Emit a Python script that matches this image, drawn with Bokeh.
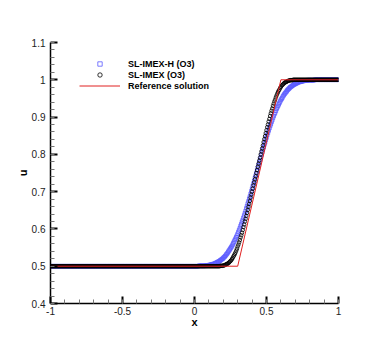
from bokeh.plotting import figure
from bokeh.models import (Range1d, SingleIntervalTicker, NumeralTickFormatter,
                          Legend, LegendItem)
from bokeh.embed import file_html
from bokeh.resources import INLINE

# ---------------- data ----------------
X = [
    -1.000, -0.995, -0.990, -0.985, -0.980, -0.975, -0.970, -0.965, -0.960, -0.955,
    -0.950, -0.945, -0.940, -0.935, -0.930, -0.925, -0.920, -0.915, -0.910, -0.905,
    -0.900, -0.895, -0.890, -0.885, -0.880, -0.875, -0.870, -0.865, -0.860, -0.855,
    -0.850, -0.845, -0.840, -0.835, -0.830, -0.825, -0.820, -0.815, -0.810, -0.805,
    -0.800, -0.795, -0.790, -0.785, -0.780, -0.775, -0.770, -0.765, -0.760, -0.755,
    -0.750, -0.745, -0.740, -0.735, -0.730, -0.725, -0.720, -0.715, -0.710, -0.705,
    -0.700, -0.695, -0.690, -0.685, -0.680, -0.675, -0.670, -0.665, -0.660, -0.655,
    -0.650, -0.645, -0.640, -0.635, -0.630, -0.625, -0.620, -0.615, -0.610, -0.605,
    -0.600, -0.595, -0.590, -0.585, -0.580, -0.575, -0.570, -0.565, -0.560, -0.555,
    -0.550, -0.545, -0.540, -0.535, -0.530, -0.525, -0.520, -0.515, -0.510, -0.505,
    -0.500, -0.495, -0.490, -0.485, -0.480, -0.475, -0.470, -0.465, -0.460, -0.455,
    -0.450, -0.445, -0.440, -0.435, -0.430, -0.425, -0.420, -0.415, -0.410, -0.405,
    -0.400, -0.395, -0.390, -0.385, -0.380, -0.375, -0.370, -0.365, -0.360, -0.355,
    -0.350, -0.345, -0.340, -0.335, -0.330, -0.325, -0.320, -0.315, -0.310, -0.305,
    -0.300, -0.295, -0.290, -0.285, -0.280, -0.275, -0.270, -0.265, -0.260, -0.255,
    -0.250, -0.245, -0.240, -0.235, -0.230, -0.225, -0.220, -0.215, -0.210, -0.205,
    -0.200, -0.195, -0.190, -0.185, -0.180, -0.175, -0.170, -0.165, -0.160, -0.155,
    -0.150, -0.145, -0.140, -0.135, -0.130, -0.125, -0.120, -0.115, -0.110, -0.105,
    -0.100, -0.095, -0.090, -0.085, -0.080, -0.075, -0.070, -0.065, -0.060, -0.055,
    -0.050, -0.045, -0.040, -0.035, -0.030, -0.025, -0.020, -0.015, -0.010, -0.005,
    0.000, 0.005, 0.010, 0.015, 0.020, 0.025, 0.030, 0.035, 0.040, 0.045,
    0.050, 0.055, 0.060, 0.065, 0.070, 0.075, 0.080, 0.085, 0.090, 0.095,
    0.100, 0.105, 0.110, 0.115, 0.120, 0.125, 0.130, 0.135, 0.140, 0.145,
    0.150, 0.155, 0.160, 0.165, 0.170, 0.175, 0.180, 0.185, 0.190, 0.195,
    0.200, 0.205, 0.210, 0.215, 0.220, 0.225, 0.230, 0.235, 0.240, 0.245,
    0.250, 0.255, 0.260, 0.265, 0.270, 0.275, 0.280, 0.285, 0.290, 0.295,
    0.300, 0.305, 0.310, 0.315, 0.320, 0.325, 0.330, 0.335, 0.340, 0.345,
    0.350, 0.355, 0.360, 0.365, 0.370, 0.375, 0.380, 0.385, 0.390, 0.395,
    0.400, 0.405, 0.410, 0.415, 0.420, 0.425, 0.430, 0.435, 0.440, 0.445,
    0.450, 0.455, 0.460, 0.465, 0.470, 0.475, 0.480, 0.485, 0.490, 0.495,
    0.500, 0.505, 0.510, 0.515, 0.520, 0.525, 0.530, 0.535, 0.540, 0.545,
    0.550, 0.555, 0.560, 0.565, 0.570, 0.575, 0.580, 0.585, 0.590, 0.595,
    0.600, 0.605, 0.610, 0.615, 0.620, 0.625, 0.630, 0.635, 0.640, 0.645,
    0.650, 0.655, 0.660, 0.665, 0.670, 0.675, 0.680, 0.685, 0.690, 0.695,
    0.700, 0.705, 0.710, 0.715, 0.720, 0.725, 0.730, 0.735, 0.740, 0.745,
    0.750, 0.755, 0.760, 0.765, 0.770, 0.775, 0.780, 0.785, 0.790, 0.795,
    0.800, 0.805, 0.810, 0.815, 0.820, 0.825, 0.830, 0.835, 0.840, 0.845,
    0.850, 0.855, 0.860, 0.865, 0.870, 0.875, 0.880, 0.885, 0.890, 0.895,
    0.900, 0.905, 0.910, 0.915, 0.920, 0.925, 0.930, 0.935, 0.940, 0.945,
    0.950, 0.955, 0.960, 0.965, 0.970, 0.975, 0.980, 0.985, 0.990, 0.995,
    1.000,
]

# SL-IMEX (O3): black circles
U_IMEX = [
    0.5, 0.5, 0.5, 0.5, 0.5, 0.5, 0.5, 0.5, 0.5, 0.5, 0.5, 0.5, 0.5, 0.5, 0.5, 0.5, 0.5, 0.5, 0.5, 0.5,
    0.5, 0.5, 0.5, 0.5, 0.5, 0.5, 0.5, 0.5, 0.5, 0.5, 0.5, 0.5, 0.5, 0.5, 0.5, 0.5, 0.5, 0.5, 0.5, 0.5,
    0.5, 0.5, 0.5, 0.5, 0.5, 0.5, 0.5, 0.5, 0.5, 0.5, 0.5, 0.5, 0.5, 0.5, 0.5, 0.5, 0.5, 0.5, 0.5, 0.5,
    0.5, 0.5, 0.5, 0.5, 0.5, 0.5, 0.5, 0.5, 0.5, 0.5, 0.5, 0.5, 0.5, 0.5, 0.5, 0.5, 0.5, 0.5, 0.5, 0.5,
    0.5, 0.5, 0.5, 0.5, 0.5, 0.5, 0.5, 0.5, 0.5, 0.5, 0.5, 0.5, 0.5, 0.5, 0.5, 0.5, 0.5, 0.5, 0.5, 0.5,
    0.5, 0.5, 0.5, 0.5, 0.5, 0.5, 0.5, 0.5, 0.5, 0.5, 0.5, 0.5, 0.5, 0.5, 0.5, 0.5, 0.5, 0.5, 0.5, 0.5,
    0.5, 0.5, 0.5, 0.5, 0.5, 0.5, 0.5, 0.5, 0.5, 0.5, 0.5, 0.5, 0.5, 0.5, 0.5, 0.5, 0.5, 0.5, 0.5, 0.5,
    0.5, 0.5, 0.5, 0.5, 0.5, 0.5, 0.5, 0.5, 0.5, 0.5, 0.5, 0.5, 0.5, 0.5, 0.5, 0.5, 0.5, 0.5, 0.5, 0.5,
    0.5, 0.5, 0.5, 0.5, 0.5, 0.5, 0.5, 0.5, 0.5, 0.5, 0.5, 0.5, 0.5, 0.5, 0.5, 0.5, 0.5, 0.5, 0.5, 0.5,
    0.5, 0.5, 0.5, 0.5, 0.5, 0.5, 0.5, 0.5, 0.5, 0.5, 0.5, 0.5, 0.5, 0.5, 0.5, 0.5, 0.5, 0.5, 0.5, 0.5,
    0.5, 0.5, 0.5, 0.5, 0.5, 0.5, 0.5, 0.5, 0.5, 0.5, 0.5, 0.5, 0.5, 0.5, 0.5, 0.5, 0.5, 0.5, 0.5, 0.5,
    0.5, 0.5, 0.5, 0.5, 0.5, 0.5, 0.5, 0.5, 0.5, 0.5, 0.5, 0.5, 0.5, 0.5, 0.5, 0.5,
    0.501, 0.501, 0.501, 0.501, 0.502, 0.502, 0.503, 0.504, 0.505, 0.506,
    0.507, 0.508, 0.510, 0.512, 0.514, 0.516, 0.519, 0.522, 0.526, 0.529,
    0.533, 0.537, 0.542, 0.547, 0.553, 0.558, 0.564, 0.570, 0.577, 0.583,
    0.590, 0.597, 0.605, 0.612, 0.620, 0.627, 0.635, 0.643, 0.651, 0.659,
    0.667, 0.675, 0.684, 0.692, 0.700, 0.708, 0.717, 0.725, 0.733, 0.741,
    0.750, 0.758, 0.767, 0.775, 0.783, 0.791, 0.800, 0.808, 0.816, 0.824,
    0.833, 0.841, 0.849, 0.857, 0.865, 0.873, 0.880, 0.888, 0.895, 0.903,
    0.910, 0.917, 0.923, 0.930, 0.936, 0.942, 0.947, 0.953, 0.958, 0.963,
    0.967, 0.971, 0.974, 0.978, 0.981, 0.984, 0.986, 0.988, 0.990, 0.992,
    0.993, 0.994, 0.995, 0.996, 0.997, 0.998, 0.998, 0.999, 0.999, 0.999,
    0.999,
    1.0, 1.0, 1.0, 1.0, 1.0, 1.0, 1.0, 1.0, 1.0, 1.0, 1.0, 1.0, 1.0, 1.0, 1.0, 1.0, 1.0, 1.0, 1.0, 1.0,
    1.0, 1.0, 1.0, 1.0, 1.0, 1.0, 1.0, 1.0, 1.0, 1.0, 1.0, 1.0, 1.0, 1.0, 1.0, 1.0, 1.0, 1.0, 1.0, 1.0,
    1.0, 1.0, 1.0, 1.0, 1.0, 1.0, 1.0, 1.0, 1.0, 1.0, 1.0, 1.0, 1.0, 1.0, 1.0, 1.0, 1.0, 1.0, 1.0, 1.0,
    1.0, 1.0, 1.0, 1.0,
]

# SL-IMEX-H (O3): blue squares
U_IMEX_H = [
    0.5, 0.5, 0.5, 0.5, 0.5, 0.5, 0.5, 0.5, 0.5, 0.5, 0.5, 0.5, 0.5, 0.5, 0.5, 0.5, 0.5, 0.5, 0.5, 0.5,
    0.5, 0.5, 0.5, 0.5, 0.5, 0.5, 0.5, 0.5, 0.5, 0.5, 0.5, 0.5, 0.5, 0.5, 0.5, 0.5, 0.5, 0.5, 0.5, 0.5,
    0.5, 0.5, 0.5, 0.5, 0.5, 0.5, 0.5, 0.5, 0.5, 0.5, 0.5, 0.5, 0.5, 0.5, 0.5, 0.5, 0.5, 0.5, 0.5, 0.5,
    0.5, 0.5, 0.5, 0.5, 0.5, 0.5, 0.5, 0.5, 0.5, 0.5, 0.5, 0.5, 0.5, 0.5, 0.5, 0.5, 0.5, 0.5, 0.5, 0.5,
    0.5, 0.5, 0.5, 0.5, 0.5, 0.5, 0.5, 0.5, 0.5, 0.5, 0.5, 0.5, 0.5, 0.5, 0.5, 0.5, 0.5, 0.5, 0.5, 0.5,
    0.5, 0.5, 0.5, 0.5, 0.5, 0.5, 0.5, 0.5, 0.5, 0.5, 0.5, 0.5, 0.5, 0.5, 0.5, 0.5, 0.5, 0.5, 0.5, 0.5,
    0.5, 0.5, 0.5, 0.5, 0.5, 0.5, 0.5, 0.5, 0.5, 0.5, 0.5, 0.5, 0.5, 0.5, 0.5, 0.5, 0.5, 0.5, 0.5, 0.5,
    0.5, 0.5, 0.5, 0.5, 0.5, 0.5, 0.5, 0.5, 0.5, 0.5, 0.5, 0.5, 0.5, 0.5, 0.5, 0.5, 0.5, 0.5, 0.5, 0.5,
    0.5, 0.5, 0.5, 0.5, 0.5, 0.5, 0.5, 0.5, 0.5, 0.5, 0.5, 0.5, 0.5, 0.5, 0.5, 0.5, 0.5, 0.5, 0.5, 0.5,
    0.5, 0.5, 0.5, 0.5, 0.5, 0.5, 0.5, 0.5, 0.5, 0.5, 0.5, 0.5, 0.5, 0.5, 0.5, 0.5, 0.5, 0.5, 0.5, 0.5,
    0.5, 0.5, 0.5, 0.5, 0.5, 0.5,
    0.501, 0.501, 0.501, 0.501, 0.501, 0.501, 0.501, 0.501, 0.501, 0.501,
    0.502, 0.502, 0.502, 0.502, 0.503, 0.503, 0.504, 0.504, 0.505, 0.505,
    0.506, 0.506, 0.507, 0.508, 0.509, 0.510, 0.511, 0.512, 0.513, 0.514,
    0.516, 0.517, 0.519, 0.520, 0.522, 0.524, 0.526, 0.528, 0.531, 0.533,
    0.536, 0.539, 0.542, 0.545, 0.548, 0.551, 0.554, 0.558, 0.562, 0.566,
    0.570, 0.574, 0.578, 0.582, 0.587, 0.592, 0.597, 0.602, 0.608, 0.613,
    0.619, 0.624, 0.630, 0.636, 0.642, 0.648, 0.655, 0.661, 0.668, 0.674,
    0.681, 0.687, 0.694, 0.701, 0.708, 0.715, 0.722, 0.729, 0.736, 0.743,
    0.750, 0.757, 0.764, 0.771, 0.778, 0.785, 0.792, 0.799, 0.806, 0.813,
    0.819, 0.826, 0.832, 0.839, 0.845, 0.852, 0.858, 0.864, 0.870, 0.876,
    0.881, 0.887, 0.892, 0.898, 0.903, 0.908, 0.912, 0.917, 0.922, 0.926,
    0.930, 0.934, 0.938, 0.942, 0.946, 0.949, 0.952, 0.956, 0.959, 0.962,
    0.964, 0.967, 0.969, 0.972, 0.974, 0.976, 0.978, 0.980, 0.981, 0.983,
    0.984, 0.986, 0.987, 0.988, 0.989, 0.990, 0.991, 0.992, 0.993, 0.994,
    0.994, 0.995, 0.995, 0.996, 0.996, 0.997, 0.997, 0.998, 0.998, 0.998,
    0.998, 0.999, 0.999, 0.999, 0.999, 0.999, 0.999, 0.999, 0.999, 0.999,
    0.999,
    1.0, 1.0, 1.0, 1.0, 1.0, 1.0, 1.0, 1.0, 1.0, 1.0, 1.0, 1.0, 1.0, 1.0, 1.0, 1.0, 1.0, 1.0, 1.0, 1.0,
    1.0, 1.0, 1.0, 1.0, 1.0, 1.0, 1.0, 1.0, 1.0, 1.0, 1.0, 1.0, 1.0, 1.0,
]

# Reference solution (piecewise linear)
X_REF = [-1.0, 0.3, 0.6, 1.0]
U_REF = [0.5, 0.5, 1.0, 1.0]

LABELS = ["SL-IMEX-H (O3)", "SL-IMEX (O3)", "Reference solution"]

assert len(X) == len(U_IMEX) == len(U_IMEX_H), (len(X), len(U_IMEX), len(U_IMEX_H))

# ---------------- figure ----------------
FONT = "Liberation Sans"

p = figure(width=376, height=334,
           x_range=Range1d(-1, 1), y_range=Range1d(0.4, 1.1),
           output_backend="svg", toolbar_location=None,
           min_border_left=50, min_border_right=38,
           min_border_top=42, min_border_bottom=31)

p.grid.visible = False
p.outline_line_color = None
p.background_fill_color = "white"
p.border_fill_color = "white"

r_h = p.scatter(X, U_IMEX_H, marker="square", size=3.5, fill_color=None,
                line_color="#5c5cff", line_width=0.8)
r_i = p.scatter(X, U_IMEX, marker="circle", size=3.5, fill_color=None,
                line_color="black", line_width=0.8)
r_ref = p.line(X_REF, U_REF, line_color="#e02020", line_width=1)

p.xaxis.ticker = SingleIntervalTicker(interval=0.5, num_minor_ticks=5)
p.yaxis.ticker = SingleIntervalTicker(interval=0.1, num_minor_ticks=5)
for ax in (p.xaxis, p.yaxis):
    ax.formatter = NumeralTickFormatter(format="0.[0]")
    ax.axis_line_color = "black"
    ax.axis_line_width = 1.5
    ax.major_tick_in = 7
    ax.major_tick_out = 0
    ax.major_tick_line_width = 2
    ax.major_tick_line_color = "black"
    ax.minor_tick_in = 4
    ax.minor_tick_out = 0
    ax.minor_tick_line_color = "#777777"
    ax.minor_tick_line_width = 1
    ax.major_label_text_font = FONT
    ax.major_label_text_font_size = "10px"
    ax.major_label_text_color = "#222222"
    ax.axis_label_text_font = FONT
    ax.axis_label_text_font_size = "11px"
    ax.axis_label_text_font_style = "bold"
    ax.axis_label_text_color = "black"

p.xaxis.axis_label = "x"
p.yaxis.axis_label = "u"
p.xaxis.major_label_standoff = 3
p.yaxis.major_label_standoff = 5
p.xaxis.axis_label_standoff = -2
p.yaxis.axis_label_standoff = 0

legend = Legend(items=[LegendItem(label=LABELS[0], renderers=[r_h]),
                       LegendItem(label=LABELS[1], renderers=[r_i]),
                       LegendItem(label=LABELS[2], renderers=[r_ref])],
                location=(29, 212))
legend.label_text_font = FONT
legend.label_text_font_style = "bold"
legend.label_text_font_size = "9px"
legend.label_text_color = "black"
legend.glyph_width = 41
legend.glyph_height = 11
legend.label_height = 11
legend.spacing = 0
legend.padding = 0
legend.margin = 0
legend.label_standoff = 8
legend.background_fill_alpha = 0
legend.border_line_color = None
p.add_layout(legend)

open("out.html", "w").write(file_html(p, INLINE))
